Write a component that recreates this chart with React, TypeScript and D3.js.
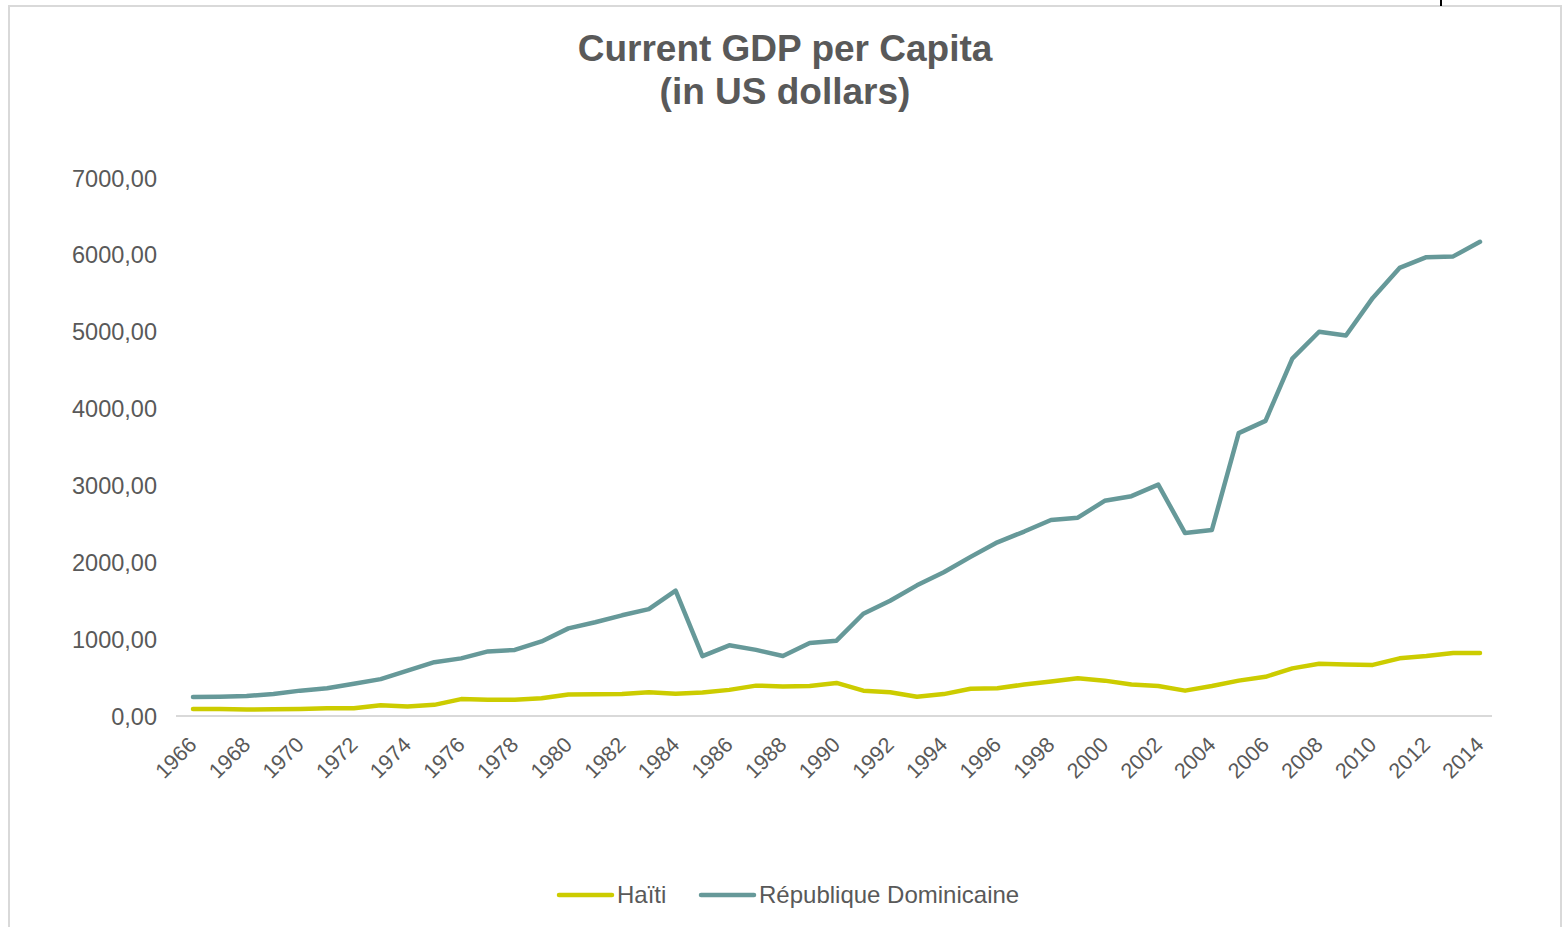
import React from "react";
import * as d3 from "d3";

const years: number[] = [
  1966, 1967, 1968, 1969, 1970, 1971, 1972, 1973, 1974, 1975, 1976, 1977, 1978, 1979,
  1980, 1981, 1982, 1983, 1984, 1985, 1986, 1987, 1988, 1989, 1990, 1991, 1992, 1993,
  1994, 1995, 1996, 1997, 1998, 1999, 2000, 2001, 2002, 2003, 2004, 2005, 2006, 2007,
  2008, 2009, 2010, 2011, 2012, 2013, 2014,
];

const haiti: number[] = [
  90, 90, 85, 88, 92, 100, 100, 140, 125, 145, 220, 210, 212, 230,
  280, 282, 285, 310, 290, 305, 340, 395, 385, 390, 430, 330, 310, 250,
  285, 355, 360, 410, 450, 490, 460, 410, 390, 330, 390, 460, 510, 620,
  680, 670, 665, 750, 780, 820, 820,
];

const dominicana: number[] = [
  247, 250, 260, 285, 330, 360, 420, 480, 590, 700, 750, 840, 860, 970,
  1140, 1220, 1310, 1390, 1630, 780, 920, 860, 780, 950, 980, 1330, 1500, 1700,
  1870, 2070, 2260, 2400, 2550, 2580, 2800, 2860, 3010, 2380, 2420, 3680, 3840, 4650,
  5000, 4950, 5440, 5830, 5970, 5980, 6170,
];

const yTicks: number[] = [0, 1000, 2000, 3000, 4000, 5000, 6000, 7000];
const xTickYears: number[] = years.filter((y) => (y - 1966) % 2 === 0);

const seriesNames: string[] = ["Haïti", "République Dominicaine"];
const seriesColors: string[] = ["#cccc00", "#669999"];

const W = 1566;
const H = 927;
const FONT = "'Liberation Sans', Arial, sans-serif";
const TEXT = "#595959";

export default function App() {
  const x = d3.scaleLinear().domain([1966, 2014]).range([193, 1480]);
  const y = d3.scaleLinear().domain([0, 7000]).range([716, 178]);
  const line = d3
    .line<number>()
    .x((_, i) => x(years[i]))
    .y((d) => y(d));
  const fmt = (v: number) => d3.format(".2f")(v).replace(".", ",");
  const series = [haiti, dominicana];

  return (
    <svg
      width={W}
      height={H}
      style={{ position: "fixed", left: 0, top: 0, display: "block", background: "#fff" }}
      fontFamily={FONT}
    >
      <rect x={0} y={0} width={W} height={H} fill="#fff" />
      <rect x={9} y={6} width={1552} height={940} fill="none" stroke="#d9d9d9" strokeWidth={2} />
      <line x1={1441} x2={1441} y1={0} y2={6} stroke="#000" strokeWidth={2} />

      <text x={785} y={61} textAnchor="middle" fontSize={37} fontWeight="bold" fill={TEXT}>
        Current GDP per Capita
      </text>
      <text x={785} y={104} textAnchor="middle" fontSize={37} fontWeight="bold" fill={TEXT}>
        (in US dollars)
      </text>

      {yTicks.map((t) => (
        <text key={t} x={157} y={y(t) + 8.5} textAnchor="end" fontSize={23.5} fill={TEXT}>
          {fmt(t)}
        </text>
      ))}

      <line x1={176} x2={1492} y1={y(0)} y2={y(0)} stroke="#d9d9d9" strokeWidth={2} />

      {xTickYears.map((yr) => (
        <text
          key={yr}
          transform={`translate(${x(yr) + 5},${y(0) + 30}) rotate(-45)`}
          textAnchor="end"
          fontSize={21.5}
          fill={TEXT}
        >
          {yr}
        </text>
      ))}

      {series.map((s, i) => (
        <path
          key={i}
          d={line(s) || ""}
          fill="none"
          stroke={seriesColors[i]}
          strokeWidth={4.5}
          strokeLinejoin="round"
          strokeLinecap="round"
        />
      ))}

      {seriesNames.map((n, i) => {
        const lx = [559, 701][i];
        return (
          <g key={n}>
            <line x1={lx} x2={lx + 53} y1={895} y2={895} stroke={seriesColors[i]} strokeWidth={4.5} strokeLinecap="round" />
            <text x={lx + 58} y={903} fontSize={24} fill={TEXT}>
              {n}
            </text>
          </g>
        );
      })}
    </svg>
  );
}
